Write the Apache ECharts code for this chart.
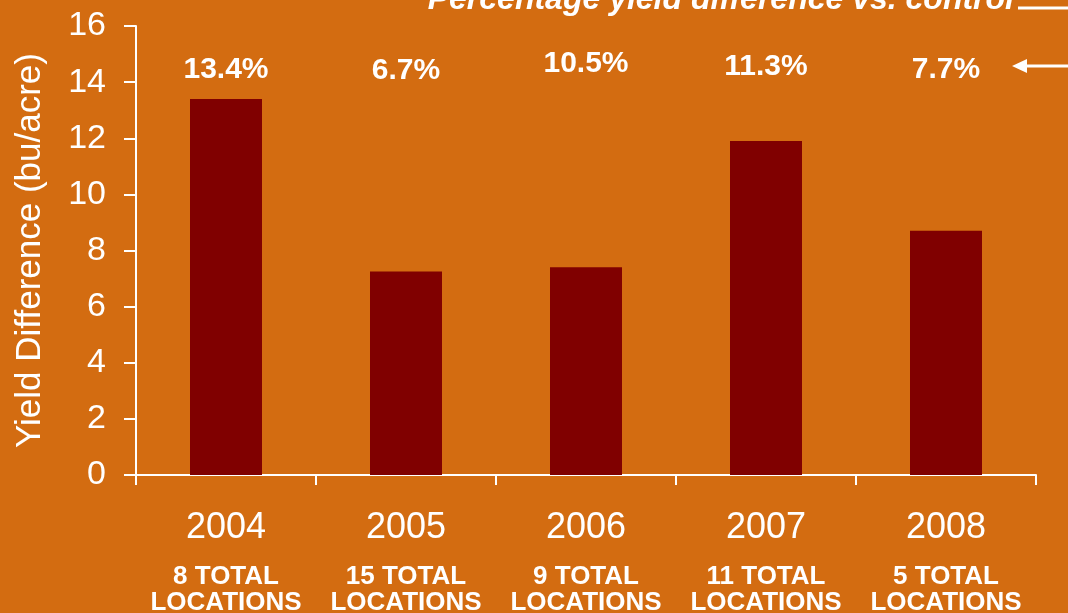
<!DOCTYPE html>
<html>
<head>
<meta charset="utf-8">
<script src="https://cdn.jsdelivr.net/npm/echarts@6/dist/echarts.min.js"></script>
<style>
  html, body { margin: 0; padding: 0; background: #D36C11; }
  #main { width: 1068px; height: 613px; }
</style>
</head>
<body>
<div id="main"></div>
<script>
// data
var years = ['2004', '2005', '2006', '2007', '2008'];
var locations = ['8 TOTAL', '15 TOTAL', '9 TOTAL', '11 TOTAL', '5 TOTAL'];
var yieldDiff = [13.4, 7.25, 7.4, 11.9, 8.7];
var pctDiff = ['13.4%', '6.7%', '10.5%', '11.3%', '7.7%'];
var pctRow = [14.45, 14.4, 14.65, 14.55, 14.45]; // where the % labels sit

var font = '"Liberation Sans", Arial, sans-serif';

var myChart = echarts.init(document.getElementById('main'));
myChart.setOption({
    backgroundColor: '#D36C11',
    animation: false,
    grid: { left: 136, right: 32, top: 26, bottom: 138, containLabel: false, outerBoundsMode: 'none' },
    xAxis: {
        type: 'category',
        data: years,
        axisLine: { lineStyle: { color: '#fff', width: 2 } },
        axisTick: { show: true, length: 10, lineStyle: { color: '#fff', width: 2 } },
        axisLabel: {
            margin: 17,
            interval: 0,
            formatter: function (v, i) {
                return '{y|' + v + '}\n{l|' + locations[i] + '}\n{l|LOCATIONS}';
            },
            rich: {
                y: { fontFamily: font, fontSize: 36, color: '#fff', lineHeight: 72 },
                l: { fontFamily: font, fontSize: 26, fontWeight: 900, color: '#fff', lineHeight: 26 }
            }
        }
    },
    yAxis: {
        type: 'value',
        min: 0,
        max: 16,
        interval: 2,
        name: 'Yield Difference (bu/acre)',
        nameLocation: 'middle',
        nameGap: 88,
        nameTextStyle: { fontFamily: font, fontSize: 35, color: '#fff' },
        splitLine: { show: false },
        axisLine: { show: true, lineStyle: { color: '#fff', width: 2 } },
        axisTick: { show: true, length: 12, lineStyle: { color: '#fff', width: 2 } },
        axisLabel: { fontFamily: font, fontSize: 34, color: '#fff', margin: 30 }
    },
    series: [
        {
            type: 'bar',
            data: yieldDiff,
            barWidth: 72,
            itemStyle: { color: '#800000' }
        },
        {
            type: 'scatter',
            data: pctRow,
            symbolSize: 0,
            silent: true,
            itemStyle: { opacity: 1 },
            label: {
                show: true,
                position: 'inside',
                formatter: function (p) { return pctDiff[p.dataIndex]; },
                fontFamily: font,
                fontSize: 30,
                fontWeight: 'bold',
                color: '#fff',
                opacity: 1
            }
        }
    ],
    graphic: [
        {
            type: 'text',
            right: 54,
            top: -16,
            style: {
                text: 'Percentage yield difference vs. control',
                fontFamily: font,
                fontSize: 32,
                fontStyle: 'italic',
                fontWeight: 'bold',
                fill: '#fff'
            }
        },
        {
            type: 'line',
            shape: { x1: 1018, y1: 8, x2: 1068, y2: 8 },
            style: { stroke: '#fff', lineWidth: 3 }
        },
        {
            type: 'line',
            shape: { x1: 1026, y1: 66, x2: 1068, y2: 66 },
            style: { stroke: '#fff', lineWidth: 3 }
        },
        {
            type: 'polygon',
            shape: { points: [[1012, 66], [1027, 59], [1027, 73]] },
            style: { fill: '#fff' }
        }
    ]
});
</script>
</body>
</html>
